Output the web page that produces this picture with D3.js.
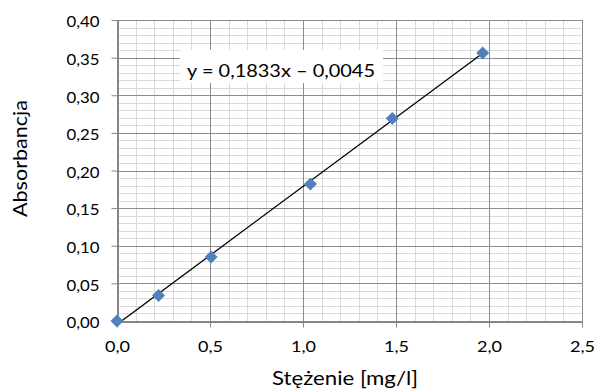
<!DOCTYPE html>
<html>
<head>
<meta charset="utf-8">
<script src="https://cdn.jsdelivr.net/npm/d3@7"></script>
<style>
  html, body { margin: 0; padding: 0; background: #fff; }
  svg { display: block; font-family: Lato, "Open Sans", sans-serif; }
</style>
</head>
<body>
<div id="chart"></div>
<script>
// calibration points
const concentration = [0.0, 0.223, 0.506, 1.04, 1.48, 1.966];
const absorbance = [0.0, 0.034, 0.085, 0.182, 0.269, 0.356];
const slope = 0.1833;
const intercept = -0.0045;
const equationLabel = "y = 0,1833x – 0,0045";
const xTicks = [0, 0.5, 1.0, 1.5, 2.0, 2.5];
const yTicks = [0, 0.05, 0.10, 0.15, 0.20, 0.25, 0.30, 0.35, 0.40];

const width = 596, height = 389;
const margin = { top: 20, right: 14, bottom: 68, left: 117 };
const comma = d3.formatLocale({ decimal: ",", thousands: " ", grouping: [3], currency: ["", ""] });

const x = d3.scaleLinear().domain([0, 2.5]).range([margin.left, width - margin.right]);
const y = d3.scaleLinear().domain([0, 0.4]).range([height - margin.bottom, margin.top]);

const svg = d3.select("#chart").append("svg")
  .attr("width", width)
  .attr("height", height);

svg.append("clipPath").attr("id", "plot")
  .append("rect")
  .attr("x", x(0)).attr("y", y(0.4))
  .attr("width", x(2.5) - x(0)).attr("height", y(0) - y(0.4));

// minor grid
const minorX = d3.range(0, 2.5001, 0.1).filter(v => Math.abs(v * 2 - Math.round(v * 2)) > 1e-6);
const minorY = d3.range(0, 0.4001, 0.01).filter(v => Math.abs(v * 20 - Math.round(v * 20)) > 1e-6);

svg.append("g").attr("stroke", "#d9d9d9").attr("stroke-width", 1)
  .call(g => g.selectAll("line.v").data(minorX).join("line")
    .attr("x1", d => Math.round(x(d)) + 0.5).attr("x2", d => Math.round(x(d)) + 0.5)
    .attr("y1", y(0)).attr("y2", y(0.4)))
  .call(g => g.selectAll("line.h").data(minorY).join("line")
    .attr("y1", d => Math.round(y(d)) + 0.5).attr("y2", d => Math.round(y(d)) + 0.5)
    .attr("x1", x(0)).attr("x2", x(2.5)));

// major grid
svg.append("g").attr("stroke", "#8c8c8c").attr("stroke-width", 1)
  .call(g => g.selectAll("line.v").data(xTicks.slice(1)).join("line")
    .attr("x1", d => Math.round(x(d)) + 0.5).attr("x2", d => Math.round(x(d)) + 0.5)
    .attr("y1", y(0)).attr("y2", y(0.4)))
  .call(g => g.selectAll("line.h").data(yTicks.slice(1)).join("line")
    .attr("y1", d => Math.round(y(d)) + 0.5).attr("y2", d => Math.round(y(d)) + 0.5)
    .attr("x1", x(0)).attr("x2", x(2.5)));

// axes
const xAxis = svg.append("g")
  .attr("transform", `translate(0,${Math.round(y(0)) + 0.5})`)
  .call(d3.axisBottom(x).tickValues(xTicks).tickFormat(comma.format(".1f")).tickSizeInner(6).tickSizeOuter(0).tickPadding(14));
const yAxis = svg.append("g")
  .attr("transform", `translate(${Math.round(x(0)) + 0.5},0)`)
  .call(d3.axisLeft(y).tickValues(yTicks).tickFormat(comma.format(".2f")).tickSizeInner(6).tickSizeOuter(0).tickPadding(12));

[xAxis, yAxis].forEach(a => {
  a.select(".domain").attr("stroke", "#868686").attr("stroke-width", 2);
  a.selectAll(".tick line").attr("stroke", "#868686");
  a.selectAll(".tick text").attr("fill", "#000").style("font-size", "15px").style("font-family", "Lato, sans-serif")
    .attr("lengthAdjust", "spacingAndGlyphs");
});
xAxis.selectAll(".tick text").attr("textLength", 25);
yAxis.selectAll(".tick text").attr("textLength", 33).attr("dy", "0.45em");

// trendline
svg.append("line")
  .attr("clip-path", "url(#plot)")
  .attr("x1", x(0)).attr("y1", y(slope * 0 + intercept))
  .attr("x2", x(d3.max(concentration))).attr("y2", y(slope * d3.max(concentration) + intercept))
  .attr("stroke", "#000").attr("stroke-width", 1.3);

// markers
const s = 6.5;
svg.append("g").selectAll("path").data(concentration).join("path")
  .attr("d", `M0,${-s}L${s},0L0,${s}L${-s},0Z`)
  .attr("transform", (d, i) => `translate(${x(d)},${y(absorbance[i])})`)
  .attr("fill", "#4f81bd");

// equation label
const eq = svg.append("g").attr("transform", "translate(281,66)");
eq.append("rect").attr("x", -101).attr("y", -16).attr("width", 203).attr("height", 33).attr("fill", "#fff");
eq.append("text").attr("text-anchor", "middle").attr("y", 11)
  .style("font-size", "16.5px")
  .attr("textLength", 188).attr("lengthAdjust", "spacingAndGlyphs")
  .text(equationLabel);

// axis titles
svg.append("text").attr("x", 345).attr("y", 385).attr("text-anchor", "middle")
  .style("font-size", "19px")
  .attr("textLength", 146).attr("lengthAdjust", "spacingAndGlyphs")
  .text("Stężenie [mg/l]");
svg.append("text").attr("transform", "translate(27,158.5) rotate(-90)").attr("text-anchor", "middle")
  .style("font-size", "19px")
  .attr("textLength", 117).attr("lengthAdjust", "spacingAndGlyphs")
  .text("Absorbancja");
</script>
</body>
</html>
